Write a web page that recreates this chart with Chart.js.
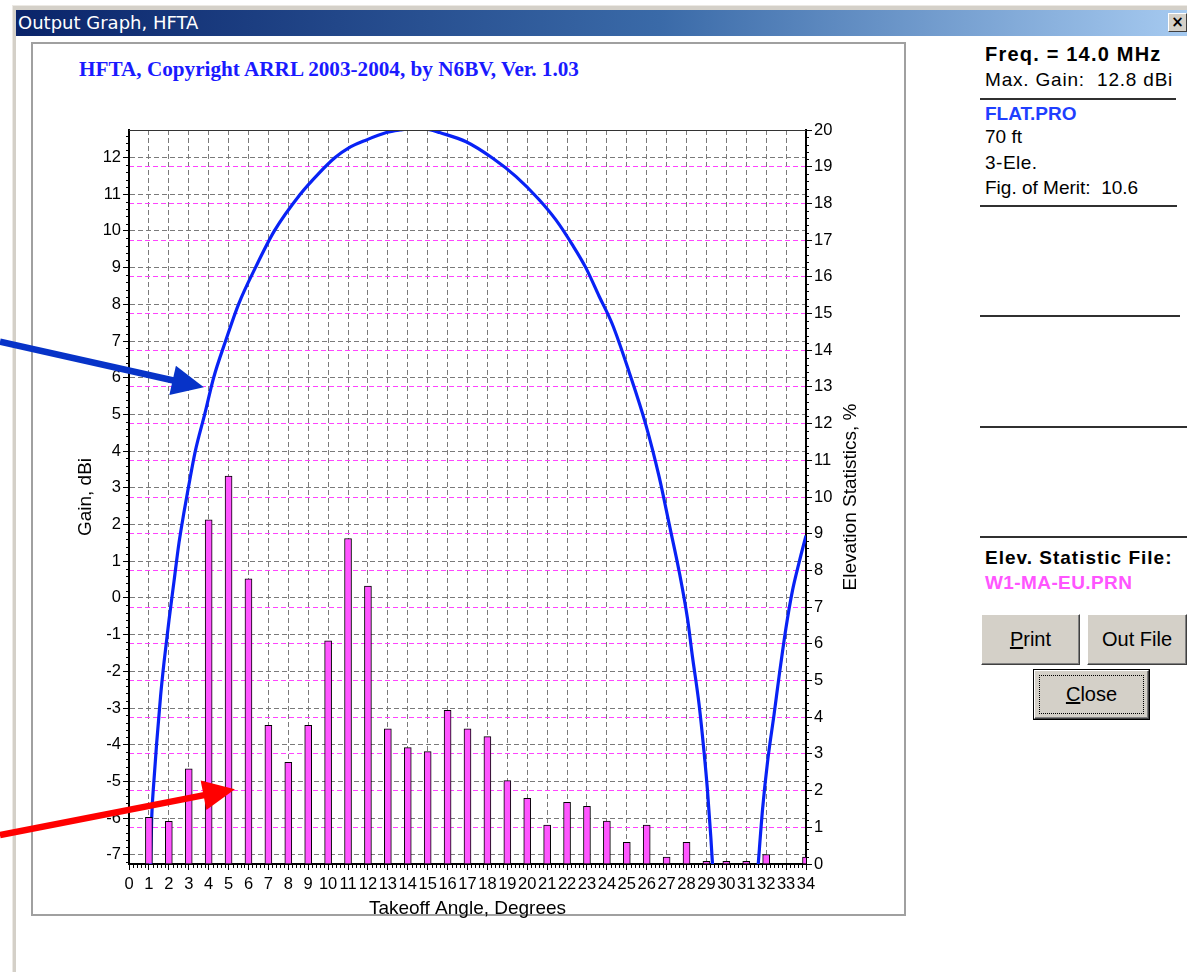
<!DOCTYPE html>
<html>
<head>
<meta charset="utf-8">
<script src="https://cdn.jsdelivr.net/npm/chart.js@4.4.1/dist/chart.umd.min.js"></script>
<style>
html,body{margin:0;padding:0;background:#fff;width:1187px;height:972px;overflow:hidden;font-family:'Liberation Sans',Arial,sans-serif;}
#win{position:absolute;left:12px;top:5px;width:1190px;height:990px;background:#d4d0c8;border-left:1px solid #ece9e4;border-top:1px solid #ece9e4;}
#client{position:absolute;left:16px;top:36px;width:1180px;height:950px;background:#fff;}
#titlebar{position:absolute;left:16px;top:10px;width:1171px;height:26px;background:linear-gradient(to right,#0a246a 0%,#3a6aa8 55%,#a6caf0 100%);color:#fff;font-family:'DejaVu Sans',sans-serif;font-size:18px;line-height:26px;padding-left:2px;box-sizing:border-box;white-space:nowrap;}
#xbtn{position:absolute;left:1168px;top:13px;width:19px;height:19px;background:#d4d0c8;border-top:1px solid #fff;border-left:1px solid #fff;border-right:1px solid #404040;border-bottom:1px solid #404040;box-sizing:border-box;font:bold 15px/17px 'DejaVu Sans',sans-serif;text-align:center;color:#000;}
#frame{position:absolute;left:31px;top:42px;width:875px;height:874px;border:2px solid #a0a0a0;box-sizing:border-box;background:#fff;}
#ctitle{position:absolute;left:79px;top:57px;font:bold 21.2px/24px 'Liberation Serif','Times New Roman',serif;color:#1a1aff;white-space:nowrap;}
.t{position:absolute;left:985px;font-size:19px;line-height:22px;white-space:pre;color:#000;}
.b{font-weight:bold;}
.hl{position:absolute;left:980px;height:2px;background:#303030;}
.btn{position:absolute;background:#d4d0c8;border-top:1px solid #fff;border-left:1px solid #fff;border-right:1px solid #404040;border-bottom:1px solid #404040;box-shadow:inset -1px -1px 0 #808080;box-sizing:border-box;font-size:20px;color:#000;display:flex;align-items:center;justify-content:center;}
#chartCanvas{position:absolute;left:0;top:0;z-index:5;}
</style>
</head>
<body>
<div id="win"></div>
<div id="client"></div>
<div id="titlebar">Output Graph, HFTA</div>
<div id="xbtn">×</div>
<div id="frame"></div>
<div id="ctitle">HFTA, Copyright ARRL 2003-2004, by N6BV, Ver. 1.03</div>

<div class="t b" style="top:43px;font-size:20px;letter-spacing:1.2px;">Freq. = 14.0 MHz</div>
<div class="t" style="top:69px;letter-spacing:0.8px;">Max. Gain:  12.8 dBi</div>
<div class="hl" style="top:98px;width:196px;"></div>
<div class="t b" style="top:103px;color:#1f3fff;">FLAT.PRO</div>
<div class="t" style="top:126px;">70 ft</div>
<div class="t" style="top:152px;letter-spacing:0.5px;">3-Ele.</div>
<div class="t" style="top:177px;">Fig. of Merit:  10.6</div>
<div class="hl" style="top:205px;width:197px;"></div>
<div class="hl" style="top:315px;width:200px;"></div>
<div class="hl" style="top:426px;width:207px;"></div>
<div class="hl" style="top:536px;width:207px;"></div>
<div class="t b" style="top:547px;letter-spacing:1px;">Elev. Statistic File:</div>
<div class="t b" style="top:572px;color:#ff55ff;letter-spacing:0.4px;">W1-MA-EU.PRN</div>
<div class="btn" style="left:981px;top:614px;width:99px;height:51px;"><span><u>P</u>rint</span></div>
<div class="btn" style="left:1087px;top:614px;width:100px;height:51px;"><span>Out File</span></div>
<div style="position:absolute;left:1033px;top:669px;width:117px;height:51px;border:1px solid #000;box-sizing:border-box;">
  <div class="btn" style="left:0;top:0;width:115px;height:49px;"><span><u>C</u>lose</span></div>
  <div style="position:absolute;left:5px;top:5px;width:105px;height:39px;border:1px dotted #000;box-sizing:border-box;"></div>
</div>

<canvas id="chartCanvas" width="1187" height="972" style="width:1187px;height:972px;"></canvas>

<script>
// ---- data ----
const angleDeg = [1,2,3,4,5,6,7,8,9,10,11,12,13,14,15,16,17,18,19,20,21,22,23,24,25,26,27,28,29,30,31,32,33,34];
const elevStatsPct = [1.27,1.16,2.59,9.38,10.57,7.77,3.78,2.77,3.78,6.08,8.87,7.57,3.68,3.17,3.06,4.19,3.68,3.47,2.27,1.79,1.06,1.68,1.57,1.17,0.59,1.06,0.19,0.59,0.07,0.07,0.07,0.26,0,0.19];

const curveAngleDeg = [1.08,1.14,1.25,1.39,1.59,1.76,2.01,2.26,2.51,2.75,2.98,3.33,3.8,4.25,4.85,5.5,6.35,7.3,8.6,9.5,10.35,11.0,11.93,12.93,13.6,14.4,15.1,15.6,16.93,18.27,19.44,20.6,21.44,22.27,22.94,23.61,24.28,25.12,25.95,26.62,27.13,27.63,28.05,28.3,28.63,28.88,29.05,29.22,29.32,30.45,31.58,31.82,32.07,32.4,32.65,32.99,33.32,33.66,34.0];
const curveGainDbi = [-7.4,-6.0,-5.0,-3.95,-2.65,-1.75,-0.6,0.45,1.5,2.3,3.0,4.0,5.0,6.0,7.0,8.0,9.0,10.0,11.0,11.55,12.0,12.25,12.48,12.68,12.75,12.8,12.76,12.68,12.43,11.98,11.48,10.85,10.3,9.62,9.0,8.22,7.45,6.15,4.73,3.31,2.01,0.72,-0.57,-1.61,-2.9,-4.2,-5.23,-6.52,-7.4,null,-7.4,-5.75,-4.46,-3.16,-2.13,-0.83,0.2,0.98,1.7];

const xTickValues = [0,1,2,3,4,5,6,7,8,9,10,11,12,13,14,15,16,17,18,19,20,21,22,23,24,25,26,27,28,29,30,31,32,33,34];
const gainTickValues = [-7,-6,-5,-4,-3,-2,-1,0,1,2,3,4,5,6,7,8,9,10,11,12];
const pctTickValues = [0,1,2,3,4,5,6,7,8,9,10,11,12,13,14,15,16,17,18,19,20];

const X_MIN = 0, X_MAX = 34;
const GAIN_MIN = -7.25, GAIN_MAX = 12.75;
const PCT_MIN = 0, PCT_MAX = 20;

const xTitle = 'Takeoff Angle, Degrees';
const gainTitle = 'Gain, dBi';
const pctTitle = 'Elevation Statistics, %';

// annotation arrows (data coordinates: angle, gain / angle, pct)
const blueArrow = {fromX: -6.48, fromY: 6.98, toX: 3.76, toY: 5.74, axis: 'y', color: '#0733c8'};
const redArrow  = {fromX: -6.48, fromY: 0.79, toX: 5.32, toY: 2.04, axis: 'y2', color: '#ff0000'};

// ---- chart ----
const FONT = "'Liberation Sans', Arial, sans-serif";
Chart.defaults.font.family = FONT;
Chart.defaults.color = '#000';

const inner = (v, lo, hi) => v > lo + 1e-9 && v < hi - 1e-9;

const decor = {
  id: 'decor',
  afterDraw(chart) {
    const ctx = chart.ctx;
    const a = chart.chartArea;
    const xs = chart.scales.x, ys = chart.scales.y, ys2 = chart.scales.y2;
    ctx.save();
    // top frame line
    ctx.strokeStyle = '#333';
    ctx.lineWidth = 1;
    ctx.beginPath();
    ctx.moveTo(a.left, a.top + 0.5);
    ctx.lineTo(a.right, a.top + 0.5);
    ctx.stroke();
    // minor ticks
    ctx.strokeStyle = '#000';
    ctx.beginPath();
    for (let k = Math.ceil(xs.min * 5); k <= Math.floor(xs.max * 5); k++) {
      if (k % 5 === 0) continue;
      const p = Math.round(xs.getPixelForValue(k / 5)) + 0.5;
      ctx.moveTo(p, a.bottom); ctx.lineTo(p, a.bottom + 4);
    }
    for (let k = Math.ceil(ys.min * 5); k <= Math.floor(ys.max * 5); k++) {
      if (k % 5 === 0) continue;
      const p = Math.round(ys.getPixelForValue(k / 5)) + 0.5;
      ctx.moveTo(a.left - 3, p); ctx.lineTo(a.left, p);
    }
    for (let k = Math.ceil(ys2.min * 5); k <= Math.floor(ys2.max * 5); k++) {
      if (k % 5 === 0) continue;
      const p = Math.round(ys2.getPixelForValue(k / 5)) + 0.5;
      ctx.moveTo(a.right, p); ctx.lineTo(a.right + 3, p);
    }
    ctx.stroke();
    // right axis title, reading bottom-to-top
    ctx.font = '19px ' + FONT;
    ctx.fillStyle = '#000';
    ctx.textAlign = 'center';
    ctx.textBaseline = 'middle';
    ctx.translate(a.right + 45, (a.top + a.bottom) / 2);
    ctx.rotate(-Math.PI / 2);
    ctx.fillText(pctTitle, 0, 0);
    ctx.restore();
    // arrows
    [blueArrow, redArrow].forEach(ar => {
      const yS = chart.scales[ar.axis];
      const x1 = xs.getPixelForValue(ar.fromX), y1 = yS.getPixelForValue(ar.fromY);
      const x2 = xs.getPixelForValue(ar.toX), y2 = yS.getPixelForValue(ar.toY);
      const ang = Math.atan2(y2 - y1, x2 - x1);
      const headLen = 32, headHalf = 15;
      const bx = x2 - headLen * Math.cos(ang), by = y2 - headLen * Math.sin(ang);
      ctx.save();
      ctx.strokeStyle = ar.color; ctx.fillStyle = ar.color;
      ctx.lineWidth = 6.5;
      ctx.beginPath(); ctx.moveTo(x1, y1); ctx.lineTo(bx + 2 * Math.cos(ang), by + 2 * Math.sin(ang)); ctx.stroke();
      ctx.beginPath();
      ctx.moveTo(x2, y2);
      ctx.lineTo(bx + headHalf * Math.sin(ang), by - headHalf * Math.cos(ang));
      ctx.lineTo(bx - headHalf * Math.sin(ang), by + headHalf * Math.cos(ang));
      ctx.closePath(); ctx.fill();
      ctx.restore();
    });
  }
};

new Chart(document.getElementById('chartCanvas'), {
  type: 'bar',
  data: {
    datasets: [
      {
        type: 'bar',
        label: 'Elevation Statistics',
        data: angleDeg.map((x, i) => ({x: x, y: elevStatsPct[i]})),
        xAxisID: 'x', yAxisID: 'y2',
        backgroundColor: '#ff55ff',
        borderColor: '#000',
        borderWidth: 1,
        borderSkipped: 'start',
        barThickness: 7,
        order: 1,
        clip: 0
      },
      {
        type: 'line',
        label: 'Gain',
        data: curveAngleDeg.map((x, i) => ({x: x, y: curveGainDbi[i]})),
        xAxisID: 'x', yAxisID: 'y',
        borderColor: '#0822f5',
        borderWidth: 3.2,
        pointRadius: 0,
        fill: false,
        spanGaps: false,
        cubicInterpolationMode: 'monotone',
        order: 2,
        clip: 0
      }
    ]
  },
  options: {
    responsive: false,
    animation: false,
    events: [],
    devicePixelRatio: 1,
    layout: {padding: {left: 69, right: 321, top: 130, bottom: 48}},
    plugins: {legend: {display: false}, tooltip: {enabled: false}, title: {display: false}},
    scales: {
      x: {
        type: 'linear', position: 'bottom', min: X_MIN, max: X_MAX, offset: false,
        afterBuildTicks: s => { s.ticks = xTickValues.map(v => ({value: v})); },
        afterFit: s => { s.height = 60; },
        ticks: {autoSkip: false, maxRotation: 0, minRotation: 0, padding: 5, font: {size: 16.5}, color: '#000', callback: v => String(v)},
        grid: {offset: false, color: c => (c.tick && inner(c.tick.value, X_MIN, X_MAX)) ? '#7a7a7a' : 'rgba(0,0,0,0)', lineWidth: 1, tickColor: '#000', tickLength: 6, tickWidth: 1},
        border: {display: true, color: '#000', width: 2, dash: [5, 3]},
        title: {display: true, text: xTitle, font: {size: 19}, color: '#000', padding: {top: 0, bottom: 4}}
      },
      y: {
        type: 'linear', position: 'left', min: GAIN_MIN, max: GAIN_MAX,
        afterBuildTicks: s => { s.ticks = gainTickValues.map(v => ({value: v})); },
        afterFit: s => { s.width = 60; },
        ticks: {padding: 2, font: {size: 16.5}, color: '#000', callback: v => String(v)},
        grid: {color: c => (c.tick && inner(c.tick.value, GAIN_MIN, GAIN_MAX)) ? '#7a7a7a' : 'rgba(0,0,0,0)', lineWidth: 1, tickColor: '#000', tickLength: 6, tickWidth: 1},
        border: {display: true, color: '#000', width: 2, dash: [5, 3]},
        title: {display: true, text: gainTitle, font: {size: 19}, color: '#000', padding: {top: 5, bottom: 0}}
      },
      y2: {
        type: 'linear', position: 'right', min: PCT_MIN, max: PCT_MAX,
        afterBuildTicks: s => { s.ticks = pctTickValues.map(v => ({value: v})); },
        afterFit: s => { s.width = 60; },
        ticks: {padding: 2, font: {size: 16.5}, color: '#000', callback: v => String(v)},
        grid: {drawOnChartArea: true, color: c => (c.tick && inner(c.tick.value, PCT_MIN, PCT_MAX)) ? '#ff44ff' : 'rgba(0,0,0,0)', lineWidth: 1, tickColor: '#000', tickLength: 6, tickWidth: 1},
        border: {display: true, color: '#000', width: 2, dash: [5, 3]},
        title: {display: false}
      }
    }
  },
  plugins: [decor]
});
</script>
</body>
</html>
